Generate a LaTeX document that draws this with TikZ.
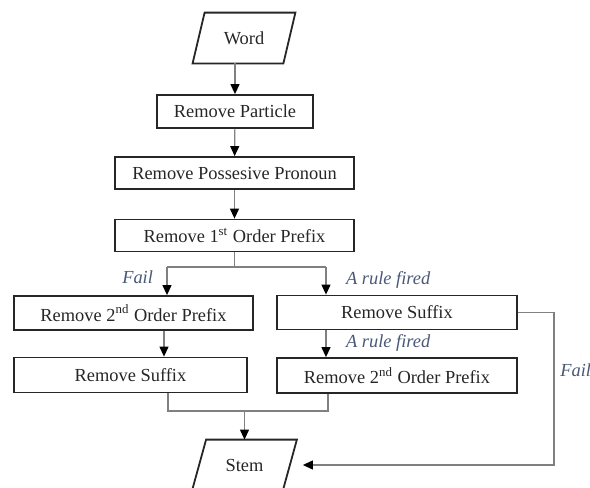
\documentclass[tikz,border=0pt]{standalone}
\usepackage{fontspec}
\setmainfont{Liberation Serif}
\usetikzlibrary{arrows.meta}
\definecolor{labelblue}{RGB}{72,88,118}
\definecolor{linegray}{RGB}{128,128,128}
\tikzset{
  boxfont/.style={font=\fontsize{9.2}{11}\selectfont},
  boxline/.style={draw=black!85, line width=0.9pt},
  procbox/.style={boxfont, boxline, rectangle, inner sep=0pt, text=black!85},
  iotext/.style={boxfont, rectangle, inner sep=0pt, minimum width=45pt, minimum height=25pt, text=black!85},
  link/.style={draw=linegray, line width=0.6pt},
  flow/.style={link, -{Triangle[length=5pt,width=4.5pt,color=black]}},
  branchlabel/.style={text=labelblue, font=\fontsize{9.2}{11}\selectfont\itshape},
}
\begin{document}
\begin{tikzpicture}[x=0.5pt,y=-0.5pt]
  \useasboundingbox (0,0) rectangle (590,488);

  % input and output
  \node[iotext] (word) at (244,38) {Word};
  \draw[boxline] ([xshift=-3pt]word.south west) -- ([xshift=-3pt]word.south east)
    -- ([xshift=3pt]word.north east) -- ([xshift=3pt]word.north west) -- cycle;
  \node[iotext] (stem) at (244.5,465) {Stem};
  \draw[boxline] ([xshift=-3.5pt]stem.south west) -- ([xshift=-3.5pt]stem.south east)
    -- ([xshift=3.5pt]stem.north east) -- ([xshift=3.5pt]stem.north west) -- cycle;

  % main chain
  \node[procbox, minimum width=78pt, minimum height=16.5pt] (particle) at (235,111.5) {Remove Particle};
  \node[procbox, minimum width=119.5pt, minimum height=16pt] (pronoun) at (234.5,173) {Remove Possesive Pronoun};
  \node[procbox, minimum width=119.5pt, minimum height=16pt] (prefixA) at (234.5,235.5) {Remove 1\textsuperscript{st} Order Prefix};

  % left branch
  \node[procbox, minimum width=119.5pt, minimum height=17pt] (prefixBL) at (133.5,313) {Remove 2\textsuperscript{nd} Order Prefix};
  \node[procbox, minimum width=116.5pt, minimum height=17.5pt] (suffixL) at (130.5,375) {Remove Suffix};

  % right branch
  \node[procbox, minimum width=120pt, minimum height=17pt] (suffixR) at (397,312.5) {Remove Suffix};
  \node[procbox, minimum width=120pt, minimum height=17.5pt] (prefixBR) at (397,375.5) {Remove 2\textsuperscript{nd} Order Prefix};

  % fork points
  \coordinate (forkL) at (167,267);
  \coordinate (forkR) at (326,267);
  \coordinate (joinL) at (168,411);
  \coordinate (joinR) at (328,411);

  % connectors
  \draw[flow] (particle.north |- word.south) -- (particle.north);
  \draw[flow] (particle) -- (pronoun);
  \draw[flow] (pronoun) -- (prefixA);
  \draw[link] (prefixA.south) -- (prefixA.south |- forkL);
  \draw[link] (forkL) -- (forkR);
  \draw[flow] (forkL) -- (forkL |- prefixBL.north);
  \draw[flow] (forkR) -- (forkR |- suffixR.north);
  \draw[flow] ([xshift=-1.5pt]forkL |- prefixBL.south) -- ([xshift=-1.5pt]forkL |- suffixL.north);
  \draw[flow] (forkR |- suffixR.south) -- (forkR |- prefixBR.north);
  \draw[link] (joinL |- suffixL.south) -- (joinL) -- (joinR) -- (joinR |- prefixBR.south);
  \draw[flow] (stem.north |- joinL) -- (stem.north);
  \draw[flow, shorten >=6.5pt] (suffixR.east) -- ++(36,0) |- (stem.east);

  % branch labels
  \node[branchlabel, anchor=east] (failA) at (160,277) {Fail};
  \node[branchlabel, anchor=west] (firedA) at (339,280) {A rule fired};
  \node[branchlabel, anchor=west] (firedB) at (339,343) {A rule fired};
  \node[branchlabel, anchor=west, inner sep=0pt] (failB) at (560,370) {Fail};
\end{tikzpicture}
\end{document}
